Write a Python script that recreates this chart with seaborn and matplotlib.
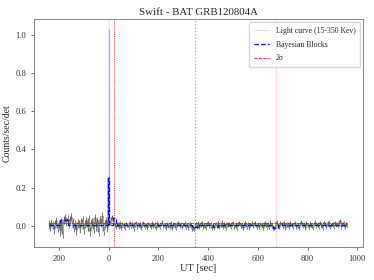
import numpy as np
import pandas as pd
import matplotlib
matplotlib.use("Agg")
import matplotlib.pyplot as plt
import seaborn as sns

# light curve (counts/sec/det, in units of 1e-3), 5 s bins
pre_milli = [
    5, -8, 15, 2, -20, 10, 25, -12, 8, -30,
    18, -45, 30, 40, 22, 35, 12, 28, 45, 20,
    -10, 5, -25, 15, 8, -15, 20, 30, -20, 10,
    25, -5, 35, -30, 12, 18, -18, 40, -8, 22,
    -35, 30, 15, 50, -28, 10, 25, -10,
]
burst_milli = [250]
post_milli = [
    15, 35, 45, 20, 5, -8, 10, -5, 12, -10, 8, 3,
    -12, 10, 5, -6, 14, -3, 8, -15, 6, 12, -8, 4,
    10, -10, 7, 15, -5, 2, -12, 9, 4, -7, 13, -2,
    6, -14, 11, 3, -9, 8, 16, -4, 5, -11, 7, 1,
    -6, 12, -10, 9, 4, -13, 6, 14, -3, 8, -8, 2,
    11, -7, 5, -12, 10, 3, -15, -10, -18, 8, -5, 12,
    -9, 6, 14, -6, 3, -11, 9, 15, -4, 7, -10, 4,
    -14, 8, -2, 12, -8, 5, 16, -5, 9, -12, 6, 2,
    10, -9, 7, 13, -6, 4, -11, 8, 15, -3, 6, -10,
    3, 12, -7, 9, -13, 5, 11, -4, 8, 14, -9, 2,
    -6, 10, 4, -12, 7, 13, -5, 9, -8, 16, 3, -10,
    -14, -6, 18, 5, -9, 11, 7, -3, 14, -11, 6, 9,
    -5, 12, 3, -8, 10, 15, -6, 4, -12, 8, 20, -4,
    7, -10, 13, 2, -7, 11, 5, -13, 9, 16, -3, 6,
    -8, 12, 4, -11, 14, 8, -5, 10, 20, -6, 3, 9,
    -9, 15, 6, -4, 11, 25, -7, 8, 13, -5, 10, 4,
]
err_pre = 0.022
err_post = 0.011

# Bayesian blocks
block_edges = [-240, -195, -165, -1, 1, 18, 28, 335, 365, 420, 440, 660, 680, 960]
block_heights = [0.004, 0.03, 0.003, 0.25, 0.005, 0.04, 0.002, -0.008, 0.003,
                 -0.006, 0.002, -0.01, 0.002]

peak_time = [0]
peak_rate = [1.03]
sigma2 = 0.012
vlines_t = [0, 22, 347, 672]

t = np.concatenate([np.arange(-240, 0, 5), [0], np.arange(5, 961, 5)])
rate = np.array(pre_milli + burst_milli + post_milli) / 1000.0
err = np.array([err_pre] * len(pre_milli) + [err_post] * (len(burst_milli) + len(post_milli)))
lc = pd.DataFrame({"t": t, "rate": rate})

sns.set_theme(style="white")
plt.rcParams['font.family'] = ['Liberation Serif', 'DejaVu Serif']

fig, ax = plt.subplots(figsize=(3.74, 2.80), dpi=100)
fig.subplots_adjust(left=0.091, right=0.971, top=0.932, bottom=0.118)

ax.errorbar(t, rate, yerr=err, fmt='none', ecolor='0.25', elinewidth=0.5, zorder=2)
sns.lineplot(data=lc, x="t", y="rate", color="lightgray", lw=0.5,
             drawstyle="steps-mid", label="Light curve (15-350 Kev)", ax=ax, zorder=3)
ax.plot(t, rate, color="0.1", lw=0.35, drawstyle="steps-mid", zorder=3)

ax.vlines(peak_time, 0, peak_rate, color="#8080ff", lw=0.9, alpha=0.7, zorder=4)

bb = pd.DataFrame({"t": block_edges, "h": block_heights + [block_heights[-1]]})
sns.lineplot(data=bb, x="t", y="h", color="blue", lw=0.9, ls="--",
             drawstyle="steps-post", label="Bayesian Blocks", ax=ax, zorder=5)

ax.plot([t[0], t[-1]], [sigma2, sigma2], color="red", lw=0.6, ls="--", label="2σ", zorder=5)

ax.axvline(vlines_t[0], color="red", alpha=0.08, lw=1.2, zorder=1)
ax.axvline(vlines_t[1], color="red", alpha=0.75, lw=0.6, ls=(0, (1.5, 1)), zorder=1)
ax.axvline(vlines_t[2], color="red", alpha=0.5, lw=0.9, ls=":", zorder=1)
ax.axvline(vlines_t[3], color="red", alpha=0.15, lw=0.9, ls="-", zorder=1)

ax.set_xlim(-300, 1023)
ax.set_ylim(-0.112, 1.084)
ax.set_xticks([-200, 0, 200, 400, 600, 800, 1000])
ax.set_xticklabels(["200", "0", "200", "400", "600", "800", "1000"])
ax.set_yticks([0.0, 0.2, 0.4, 0.6, 0.8, 1.0])
ax.tick_params(labelsize=6.2, length=2, width=0.5, colors="0.2", bottom=True, left=True)
ax.set_xlabel("UT [sec]", fontsize=7.5, labelpad=1)
ax.set_ylabel("Counts/sec/det", fontsize=7, labelpad=3)
ax.set_title("Swift - BAT GRB120804A", fontsize=7.8, pad=3)
for s in ax.spines.values():
    s.set_edgecolor("0.5")
    s.set_linewidth(0.7)

ax.legend(loc="upper right", fontsize=5.6, frameon=True, handlelength=2.0,
          borderpad=0.6, labelspacing=0.75, borderaxespad=0.4)

fig.savefig("out.png", dpi=100)
